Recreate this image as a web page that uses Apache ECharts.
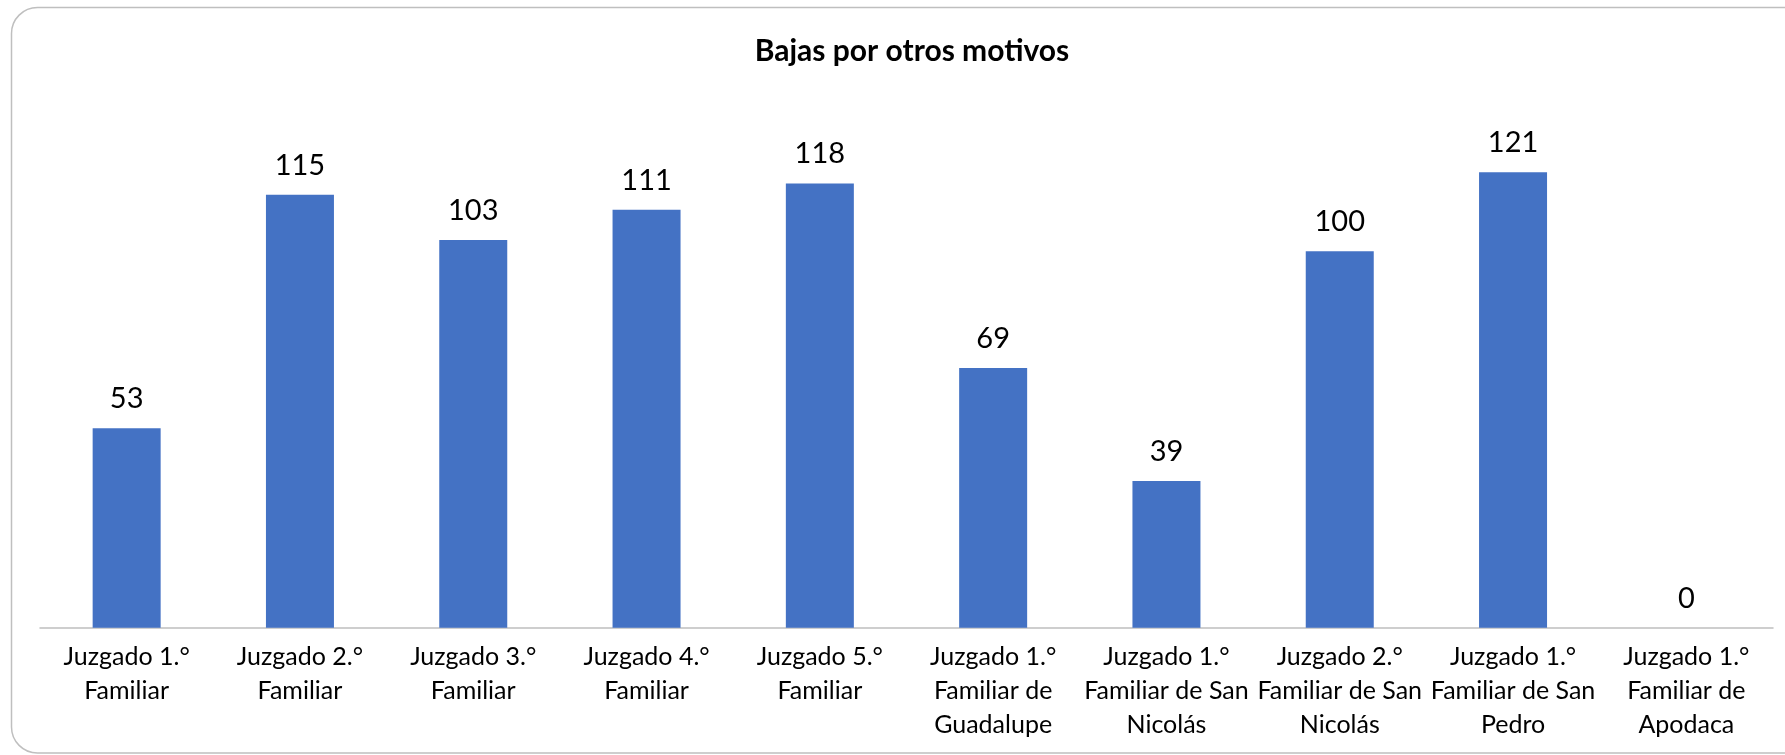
<!DOCTYPE html>
<html>
<head>
<meta charset="utf-8">
<script src="https://cdn.jsdelivr.net/npm/echarts@6/dist/echarts.min.js"></script>
<style>
html,body{margin:0;padding:0;background:#fff;}
#chart{width:1785px;height:755px;}
</style>
</head>
<body>
<div id="chart"></div>
<script>
const titleText = 'Bajas por otros motivos';
const categories = [
  'Juzgado 1.°\nFamiliar',
  'Juzgado 2.°\nFamiliar',
  'Juzgado 3.°\nFamiliar',
  'Juzgado 4.°\nFamiliar',
  'Juzgado 5.°\nFamiliar',
  'Juzgado 1.°\nFamiliar de\nGuadalupe',
  'Juzgado 1.°\nFamiliar de San\nNicolás',
  'Juzgado 2.°\nFamiliar de San\nNicolás',
  'Juzgado 1.°\nFamiliar de San\nPedro',
  'Juzgado 1.°\nFamiliar de\nApodaca'
];
const values = [53, 115, 103, 111, 118, 69, 39, 100, 121, 0];

const FONT = 'Lato';
const chart = echarts.init(document.getElementById('chart'), null, {renderer: 'canvas'});
chart.setOption({
  animation: false,
  backgroundColor: '#fff',
  title: {
    text: titleText,
    left: 907, top: 31, textAlign: 'center',
    textStyle: {fontFamily: FONT, fontWeight: 'bold', fontSize: 30, color: '#000'}
  },
  graphic: [{
    type: 'rect',
    shape: {x: 11.5, y: 7.5, width: 1800, height: 745.5, r: 26},
    style: {fill: 'none', stroke: '#BFBFBF', lineWidth: 1.5},
    silent: true, z: -1
  }],
  grid: {left: 40, right: 12, top: 100.7, bottom: 127.3, containLabel: false},
  xAxis: {
    type: 'category',
    data: categories,
    axisLine: {lineStyle: {color: '#BFBFBF', width: 1.5}},
    axisTick: {show: false},
    axisLabel: {
      interval: 0, margin: 12,
      fontFamily: FONT, fontSize: 25, lineHeight: 34, color: '#000', align: 'center'
    }
  },
  yAxis: {
    type: 'value', min: 0, max: 140, interval: 20,
    show: false, splitLine: {show: false}
  },
  series: [{
    type: 'bar',
    data: values,
    barWidth: 68,
    itemStyle: {color: '#4472C4'},
    label: {
      show: true, position: 'top', distance: 15,
      fontFamily: FONT, fontSize: 29, color: '#000'
    }
  }]
});
</script>
</body>
</html>
